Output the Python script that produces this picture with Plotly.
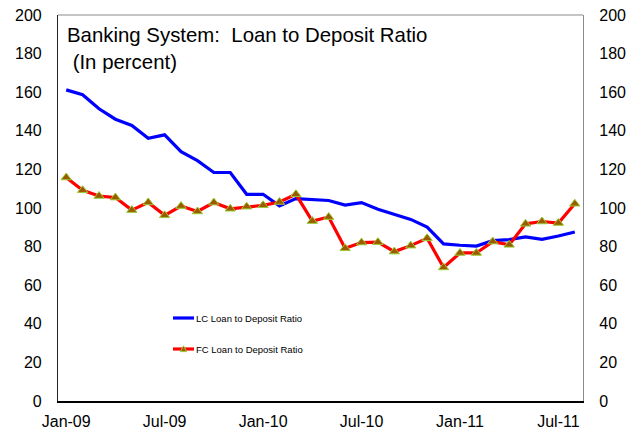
import pandas as pd
import plotly.graph_objects as go

# Monthly observations, Jan-2009 .. Aug-2011
months = [d.strftime("%b-%y") for d in pd.date_range("2009-01-01", periods=32, freq="MS")]

lc_ratio = [161.2, 158.7, 151.4, 146.0, 142.8, 136.1, 137.9, 129.2, 124.5, 118.4,
            118.4, 107.1, 107.1, 101.1, 104.9, 104.3, 103.9, 101.5, 102.8, 99.3,
            96.7, 94.1, 90.1, 81.4, 80.7, 80.3, 83.1, 83.6, 85.0, 83.8, 85.5, 87.6]

fc_ratio = [115.8, 109.2, 106.2, 105.4, 98.9, 102.9, 96.2, 101.0, 98.2, 102.8,
            99.6, 100.7, 101.4, 103.1, 107.1, 93.2, 95.3, 79.1, 82.1, 82.3,
            77.4, 80.5, 84.3, 69.2, 76.7, 76.7, 82.6, 80.9, 91.8, 93.0, 92.2, 102.2]

tick_labels = ["Jan-09", "Jul-09", "Jan-10", "Jul-10", "Jan-11", "Jul-11"]
y_ticks = list(range(0, 201, 20))

series_names = ["LC Loan to Deposit Ratio", "FC Loan to Deposit Ratio"]
title_text = "Banking System:\u00a0 Loan to Deposit Ratio<br>\u00a0(In percent)"

FONT = "Liberation Sans, Arial, sans-serif"
BLUE = "#0000FF"
RED = "#FF0000"
TRI_FILL = "#9C5A00"
TRI_EDGE = "#99CC33"

fig = go.Figure()

fig.add_trace(go.Scatter(
    x=months, y=lc_ratio, mode="lines", name=series_names[0],
    line=dict(color=BLUE, width=3.2), showlegend=False,
))
fig.add_trace(go.Scatter(
    x=months, y=fc_ratio, mode="lines+markers", name=series_names[1],
    line=dict(color=RED, width=3.2),
    marker=dict(symbol="triangle-up", size=9, color=TRI_FILL,
                line=dict(color=TRI_EDGE, width=1)),
    yaxis="y2", showlegend=False,
))

axis_font = dict(family=FONT, size=16, color="black")

fig.update_layout(
    width=626, height=432,
    margin=dict(l=58, r=43, t=15, b=31),
    paper_bgcolor="white", plot_bgcolor="white",
    font=dict(family=FONT, color="black"),
    xaxis=dict(
        type="category", range=[-0.5, len(months) - 0.5], automargin=False,
        tickmode="array", tickvals=tick_labels, ticktext=tick_labels,
        showgrid=False, zeroline=False, showline=True, linecolor="black", linewidth=1.5,
        ticks="", ticklabelstandoff=5, tickfont=axis_font,
    ),
    yaxis=dict(
        range=[0, 200], tickmode="array", tickvals=y_ticks, automargin=False,
        showgrid=False, zeroline=False, showline=True, linecolor="#222222", linewidth=1.2,
        ticks="", ticklabelstandoff=12, tickfont=axis_font,
    ),
    yaxis2=dict(
        range=[0, 200], tickmode="array", tickvals=y_ticks, automargin=False,
        overlaying="y", side="right",
        showgrid=False, zeroline=False, showline=True, linecolor="#8c8c8c", linewidth=1.2,
        ticks="", ticklabelstandoff=12, tickfont=axis_font,
    ),
)

# top edge of the plot frame
fig.add_shape(type="line", xref="paper", yref="paper", x0=0, x1=1, y0=1, y1=1,
              line=dict(color="#8c8c8c", width=1.2))

# chart title inside the plot area
fig.add_annotation(
    text=title_text, xref="paper", yref="paper", x=0.013, y=0.983,
    xanchor="left", yanchor="top", align="left", showarrow=False,
    font=dict(family=FONT, size=20.4, color="black"),
)

# legend drawn inside the plot area
PLOT_L, PLOT_W, PLOT_B, PLOT_H = 58, 525, 401, 386


def px_x(p):
    return (p - PLOT_L) / PLOT_W


def px_y(p):
    return (PLOT_B - p) / PLOT_H


legend_rows = [(series_names[0], BLUE, 318, False), (series_names[1], RED, 349, True)]
for name, color, ypix, with_marker in legend_rows:
    fig.add_shape(type="line", xref="paper", yref="paper",
                  x0=px_x(173), x1=px_x(194), y0=px_y(ypix), y1=px_y(ypix),
                  line=dict(color=color, width=3.2))
    if with_marker:
        cx, cy = 183.5, ypix
        path = "M {} {} L {} {} L {} {} Z".format(
            px_x(cx - 3.2), px_y(cy + 2.6), px_x(cx + 3.2), px_y(cy + 2.6),
            px_x(cx), px_y(cy - 3.2))
        fig.add_shape(type="path", xref="paper", yref="paper", path=path,
                      fillcolor=TRI_FILL, line=dict(color=TRI_EDGE, width=1))
    fig.add_annotation(text=name, xref="paper", yref="paper",
                       x=px_x(194), y=px_y(ypix), xanchor="left", yanchor="middle",
                       showarrow=False, font=dict(family=FONT, size=9.5, color="black"))

fig.write_html("out.html")
